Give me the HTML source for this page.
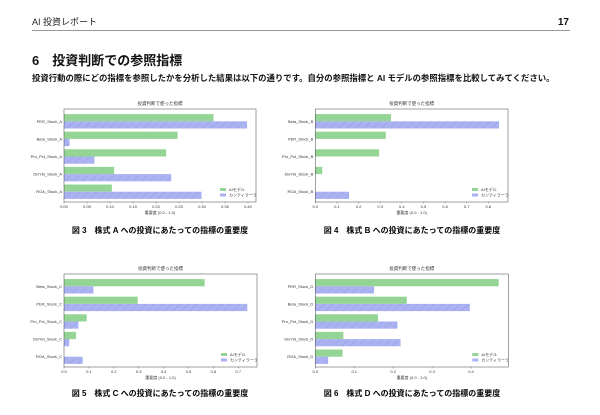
<!DOCTYPE html>
<html><head><meta charset="utf-8">
<style>
body{margin:0;background:#fff;}
svg{display:block;font-family:"Liberation Sans","Noto Sans CJK JP",sans-serif;}
</style></head>
<body>
<svg id="page" width="600" height="415" viewBox="0 0 600 415">
<defs>
<pattern id="hatch" patternUnits="userSpaceOnUse" width="6" height="6" patternTransform="rotate(45)">
<rect width="6" height="6" fill="#aab2f2"/><line x1="0" y1="0" x2="0" y2="6" stroke="#8f98e0" stroke-width="0.8"/>
</pattern>
</defs>
<text x="32" y="25" font-size="9" fill="#222">AI 投資レポート</text>
<text x="569" y="25" font-size="10" font-weight="bold" text-anchor="end" fill="#111">17</text>
<line x1="32" y1="30.5" x2="570" y2="30.5" stroke="#777" stroke-width="0.8"/>
<text x="32" y="65" font-size="13" font-weight="bold" fill="#111">6　投資判断での参照指標</text>
<text x="32" y="81" font-size="8.4" font-weight="bold" fill="#111">投資行動の際にどの指標を参照したかを分析した結果は以下の通りです。自分の参照指標と AI モデルの参照指標を比較してみてください。</text>
<text x="160" y="233" font-size="8" font-weight="bold" text-anchor="middle">図 3　株式 A への投資にあたっての指標の重要度</text>
<text x="412" y="233" font-size="8" font-weight="bold" text-anchor="middle">図 4　株式 B への投資にあたっての指標の重要度</text>
<text x="160" y="396" font-size="8" font-weight="bold" text-anchor="middle">図 5　株式 C への投資にあたっての指標の重要度</text>
<text x="412" y="396" font-size="8" font-weight="bold" text-anchor="middle">図 6　株式 D への投資にあたっての指標の重要度</text>
<g id="charts"></g>
</svg>
<script>
const catsA = ["PER_Stock_A","Beta_Stock_A","Pro_Pct_Stock_A","DivYld_Stock_A","ROA_Stock_A"];
const aiA = [0.325,0.247,0.222,0.109,0.104];
const huA = [0.398,0.012,0.066,0.233,0.299];
const ticksA = ["0.00","0.05","0.10","0.15","0.20","0.25","0.30","0.35","0.40"];
const catsB = ["Beta_Stock_B","PER_Stock_B","Pro_Pct_Stock_B","DivYld_Stock_B","ROA_Stock_B"];
const aiB = [0.35,0.326,0.295,0.032,0];
const huB = [0.85,0,0,0,0.156];
const ticksB = ["0.0","0.1","0.2","0.3","0.4","0.5","0.6","0.7","0.8"];
const catsC = ["Beta_Stock_C","PER_Stock_C","Pro_Pct_Stock_C","DivYld_Stock_C","ROA_Stock_C"];
const aiC = [0.565,0.296,0.091,0.048,0];
const huC = [0.118,0.736,0.058,0.021,0.075];
const ticksC = ["0.0","0.1","0.2","0.3","0.4","0.5","0.6","0.7"];
const catsD = ["PER_Stock_D","Beta_Stock_D","Pro_Pct_Stock_D","DivYld_Stock_D","ROA_Stock_D"];
const aiD = [0.471,0.235,0.161,0.072,0.07];
const huD = [0.151,0.397,0.211,0.219,0.033];
const ticksD = ["0.0","0.1","0.2","0.3","0.4"];

const NS="http://www.w3.org/2000/svg";
function mk(tag,attrs,parent){const e=document.createElementNS(NS,tag);for(const k in attrs)e.setAttribute(k,attrs[k]);parent.appendChild(e);return e;}
function drawChart(key,left,top,right,tickEnd,cats,ai,hu,ticks){
  const root=document.getElementById('charts');
  const g=mk('g',{},root);
  
  
  const bottom=top+93;
  const maxV=parseFloat(ticks[ticks.length-1]);
  const x=v=>Math.min(right,left+(v/maxV)*(tickEnd-left));
  const yC=i=>top+12.3+i*17.6;
  const t=mk('text',{x:(left+right)/2,y:top-4,'font-size':'4.5','text-anchor':'middle',fill:'#333'},g);
  t.textContent='投資判断で使った指標';
  
  
  cats.forEach((c,i)=>{
    const b1=mk('rect',{x:left,y:yC(i)-7.2,width:Math.max(0,x(ai[i])-left),height:7.2,fill:'#94d494'},g);
    
    
    const b2=mk('rect',{x:left,y:yC(i),width:Math.max(0,x(hu[i])-left),height:7.2,fill:'url(#hatch)'},g);
    
    
    const l=mk('text',{x:left-2,y:yC(i)+1.5,'font-size':'4','text-anchor':'end',fill:'#333'},g);
    l.textContent=c;
    
    
  });
  const fr=mk('rect',{x:left,y:top,width:right-left,height:93,fill:'none',stroke:'#444','stroke-width':'0.5'},g);
  
  
  ticks.forEach(tk=>{
    const v=parseFloat(tk);
    mk('line',{x1:x(v),x2:x(v),y1:bottom,y2:bottom+1.5,stroke:'#444','stroke-width':'0.4'},g);
    const tt=mk('text',{x:x(v),y:bottom+6,'font-size':'4','text-anchor':'middle',fill:'#333'},g);
    tt.textContent=tk;
    
    
  });
  const xl=mk('text',{x:(left+right)/2,y:bottom+12,'font-size':'4','text-anchor':'middle',fill:'#333'},g);
  xl.textContent='重要度 (0.0 - 1.0)';
  
  
  const lx=right-36, ly=bottom-14;
  const lg=mk('g',{},g);
  
  
  mk('rect',{x:lx,y:ly,width:6,height:3,fill:'#94d494'},lg);
  mk('rect',{x:lx,y:ly+5.5,width:6,height:3,fill:'#aab2f2'},lg);
  const a=mk('text',{x:lx+9,y:ly+3,'font-size':'4',fill:'#333'},lg);a.textContent='AIモデル';
  const h=mk('text',{x:lx+9,y:ly+8.5,'font-size':'4',fill:'#333'},lg);h.textContent='カンティラーラ';
}
drawChart('a',64,109,256,248,catsA,aiA,huA,ticksA);
drawChart('b',315.3,109,508,488.3,catsB,aiB,huB,ticksB);
drawChart('c',64,274,257,238.3,catsC,aiC,huC,ticksC);
drawChart('d',315.3,274,508.3,471,catsD,aiD,huD,ticksD);
</script>
</body></html>
